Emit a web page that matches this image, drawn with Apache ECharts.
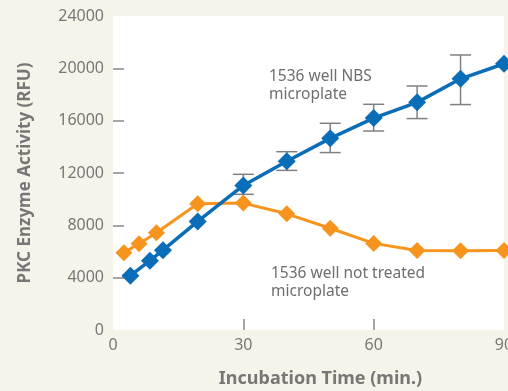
<!DOCTYPE html>
<html>
<head>
<meta charset="utf-8">
<script src="https://cdn.jsdelivr.net/npm/echarts@6/dist/echarts.min.js"></script>
<style>
  html, body { margin: 0; padding: 0; background: #f6f4ea; }
  #chart { width: 508px; height: 391px; }
</style>
</head>
<body>
<div id="chart"></div>
<script>
// Incubation times (min.) and PKC activity (RFU)
const nbsTime   = [4, 8.5, 11.5, 19.5, 30, 40, 50, 60, 70, 80, 90];
const nbsValues = [4150, 5300, 6100, 8300, 11050, 12900, 14650, 16200, 17400, 19200, 20350];

// Error bar ranges for the NBS plate
const nbsErrTime = [30, 40, 50, 60, 70, 80];
const nbsErrLow  = [10370, 12200, 13560, 15210, 16160, 17230];
const nbsErrHigh = [11900, 13630, 15800, 17250, 18650, 21020];

const plainTime   = [2.5, 6, 10, 19.5, 30, 40, 50, 60, 70, 80, 90];
const plainValues = [5900, 6600, 7430, 9650, 9700, 8880, 7780, 6620, 6080, 6060, 6080];

const xTicks = [0, 30, 60, 90];
const yTicks = [0, 4000, 8000, 12000, 16000, 20000, 24000];

const FONT = 'Noto Sans';
const GREY = '#777777';
const BLUE = '#0a6db8';
const ORANGE = '#f7941d';

const chart = echarts.init(document.getElementById('chart'));

const pair = (xs, ys) => xs.map((x, i) => [x, ys[i]]);
const errData = nbsErrTime.map((x, i) => [x, nbsErrLow[i], nbsErrHigh[i]]);

chart.setOption({
  backgroundColor: '#f6f4ea',
  animation: false,
  grid: {
    left: 113, right: 4, top: 16, bottom: 61,
    containLabel: false, outerBoundsMode: 'none',
    show: true, backgroundColor: '#ffffff', borderWidth: 0
  },
  xAxis: {
    type: 'value', min: 0, max: 90, interval: 30,
    name: 'Incubation Time (min.)', nameLocation: 'middle', nameGap: 40,
    nameTextStyle: { fontFamily: FONT, fontWeight: 'bold', fontSize: 18, color: GREY, padding: [0, 0, 0, 24] },
    axisLine: { show: false },
    axisTick: { show: true, inside: true, length: 11, customValues: [30, 60], lineStyle: { color: '#888', width: 1.5 } },
    axisLabel: { customValues: xTicks, fontFamily: FONT, fontSize: 16, color: GREY, margin: 7, formatter: v => String(v) },
    splitLine: { show: false }
  },
  yAxis: {
    type: 'value', min: 0, max: 24000, interval: 4000,
    name: 'PKC Enzyme Activity (RFU)', nameLocation: 'middle', nameGap: 79,
    nameTextStyle: { fontFamily: FONT, fontWeight: 'bold', fontSize: 17, color: GREY },
    axisLine: { show: false },
    axisTick: { show: true, inside: true, length: 11, customValues: [4000, 8000, 12000, 16000, 20000], lineStyle: { color: '#888', width: 1.5 } },
    axisLabel: { customValues: yTicks, fontFamily: FONT, fontSize: 16, color: GREY, margin: 9, formatter: v => String(v) },
    splitLine: { show: false }
  },
  graphic: [
    { type: 'text', left: 269, top: 68, style: { text: '1536 well NBS\nmicroplate', fontFamily: FONT, fontSize: 15.5, lineHeight: 18, fill: '#6e6e6e' } },
    { type: 'text', left: 271, top: 265, style: { text: '1536 well not treated\nmicroplate', fontFamily: FONT, fontSize: 15.5, lineHeight: 18, fill: '#6e6e6e' } }
  ],
  series: [
    {
      type: 'custom',
      data: errData,
      z: 1,
      renderItem: function (params, api) {
        const x = api.value(0);
        const lo = api.coord([x, api.value(1)]);
        const hi = api.coord([x, api.value(2)]);
        const w = 10.5;
        const style = { stroke: '#808080', lineWidth: 1.5 };
        return {
          type: 'group',
          children: [
            { type: 'line', shape: { x1: lo[0], y1: lo[1], x2: hi[0], y2: hi[1] }, style },
            { type: 'line', shape: { x1: hi[0] - w, y1: hi[1], x2: hi[0] + w, y2: hi[1] }, style },
            { type: 'line', shape: { x1: lo[0] - w, y1: lo[1], x2: lo[0] + w, y2: lo[1] }, style }
          ]
        };
      }
    },
    {
      type: 'line',
      data: pair(plainTime, plainValues),
      z: 2,
      symbol: 'diamond', symbolSize: 17,
      lineStyle: { color: ORANGE, width: 3 },
      itemStyle: { color: ORANGE },
      showAllSymbol: true
    },
    {
      type: 'line',
      data: pair(nbsTime, nbsValues),
      z: 3,
      symbol: 'diamond', symbolSize: 18,
      lineStyle: { color: BLUE, width: 3.5 },
      itemStyle: { color: BLUE },
      showAllSymbol: true
    }
  ]
});
</script>
</body>
</html>
